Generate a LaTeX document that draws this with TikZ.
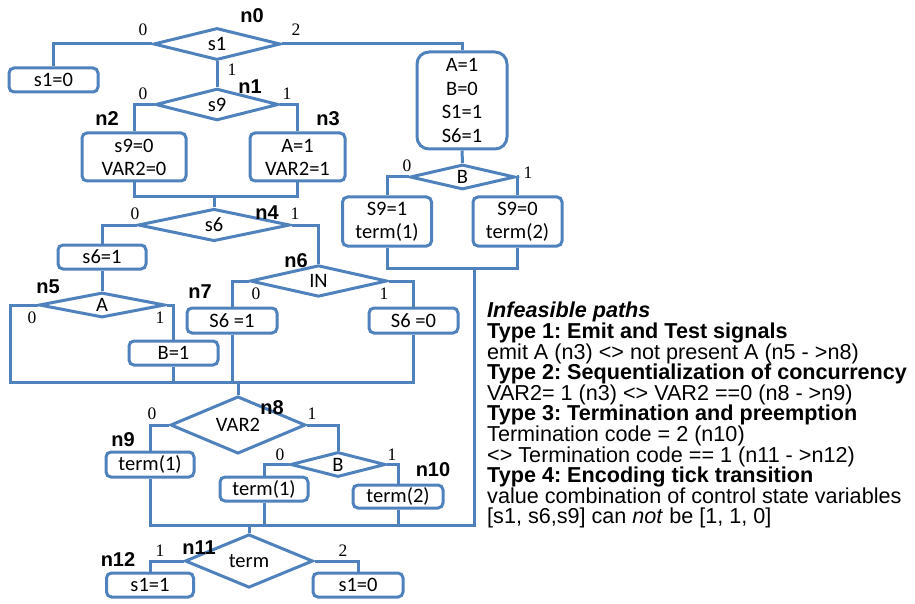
\documentclass[tikz,border=0pt]{standalone}
\usepackage{fontspec}
\setmainfont{Carlito}
\newfontfamily\arialfont{Liberation Sans}
\newfontfamily\serifnum{Liberation Serif}
\usepackage{tikz}
\usetikzlibrary{shapes.geometric}
\definecolor{lineblue}{RGB}{79,129,189}
\frenchspacing

\begin{document}
\begin{tikzpicture}[x=1pt, y=-1pt,
decisionnode/.style={diamond, draw=lineblue, line width=3pt, inner sep=0pt, font=\fontsize{20.5}{20.5}\selectfont},
squarednode/.style={rectangle, rounded corners=5pt, draw=lineblue, line width=3pt, inner sep=0pt, align=center, font=\fontsize{20.5}{23}\selectfont},
numlabel/.style={font=\serifnum\fontsize{17.5}{17.5}\selectfont, inner sep=0pt},
namelabel/.style={font=\arialfont\bfseries\fontsize{20}{20}\selectfont, inner sep=0pt},
infotext/.style={font=\arialfont\fontsize{21.6}{20.6}\selectfont, align=left, inner sep=0pt},
flow/.style={draw=lineblue, line width=3pt},
]
\useasboundingbox (0,0) rectangle (915,604);
%Nodes
\node[decisionnode, minimum width=127pt, minimum height=32pt] (n0)   at (217,44)    {s1};
\node[squarednode, minimum width=89pt, minimum height=24pt]   (s1z)  at (53.5,80)   {s1=0};
\node[squarednode, minimum width=90pt, minimum height=97pt, rounded corners=12pt, font=\fontsize{20.5}{23.7}\selectfont] (init) at (462,100.5) {A=1\\B=0\\S1=1\\S6=1};
\node[decisionnode, minimum width=105pt, minimum height=25pt] (bd)   at (462.5,177) {B};
\node[squarednode, minimum width=89pt, minimum height=49pt]   (s9o)  at (387,221.5) {S9=1\\term(1)};
\node[squarednode, minimum width=89pt, minimum height=49pt]   (s9z)  at (517.5,221.5) {S9=0\\term(2)};
\node[decisionnode, minimum width=123pt, minimum height=24pt] (n1)   at (217,104.5) {s9};
\node[squarednode, minimum width=104pt, minimum height=48pt]  (n2)   at (134,157)   {s9=0\\VAR2=0};
\node[squarednode, minimum width=95pt, minimum height=48pt]   (n3)   at (297.5,157) {A=1\\VAR2=1};
\node[decisionnode, minimum width=152pt, minimum height=24pt] (n4)   at (214,225)   {s6};
\node[squarednode, minimum width=88pt, minimum height=24pt]   (s6o)  at (102,257)   {s6=1};
\node[decisionnode, minimum width=126pt, minimum height=24pt] (n5)   at (102,305)   {A};
\node[squarednode, minimum width=89pt, minimum height=24pt]   (b1)   at (173.5,353) {B=1};
\node[decisionnode, minimum width=137pt, minimum height=24pt] (n6)   at (318.5,281) {IN};
\node[squarednode, minimum width=90pt, minimum height=25pt]   (n7)   at (232,320.5) {S6 =1};
\node[squarednode, minimum width=89pt, minimum height=25pt]   (s6z)  at (413.5,320.5) {S6 =0};
\node[decisionnode, minimum width=135pt, minimum height=24pt] (n8)   at (238,425)   {VAR2};
\node[squarednode, minimum width=88pt, minimum height=25pt]   (n9)   at (150,464.5) {term(1)};
\node[decisionnode, minimum width=95pt, minimum height=25pt]  (bb)   at (338,464.5) {B};
\node[squarednode, minimum width=88pt, minimum height=24pt]   (t1)   at (264,489)   {term(1)};
\node[squarednode, minimum width=90pt, minimum height=23pt]   (n10)  at (398,496.5) {term(2)};
\node[decisionnode, minimum width=128pt, minimum height=25pt] (n11)  at (249,561)   {term};
\node[squarednode, minimum width=87pt, minimum height=24pt]   (n12)  at (150,585)   {s1=1};
\node[squarednode, minimum width=90pt, minimum height=24pt]   (s1n)  at (358,585)   {s1=0};

%Junctions
\coordinate (j1) at (214,197);
\coordinate (j2) at (10,382);
\coordinate (j3) at (238,382);
\coordinate (j4) at (474,268);
\coordinate (j5) at (474,525);

%Names
\node[namelabel] (ln0)  at (252,16)  {n0};
\node[namelabel] (ln1)  at (250,87)  {n1};
\node[namelabel] (ln2)  at (107,119) {n2};
\node[namelabel] (ln3)  at (328,119) {n3};
\node[namelabel] (ln4)  at (267,213) {n4};
\node[namelabel] (ln5)  at (48,287)  {n5};
\node[namelabel] (ln6)  at (296,261) {n6};
\node[namelabel] (ln7)  at (200,292) {n7};
\node[namelabel] (ln8)  at (272,408) {n8};
\node[namelabel] (ln9)  at (123,440) {n9};
\node[namelabel] (ln10) at (433,470) {n10};
\node[namelabel] (ln11) at (199,548) {n11};
\node[namelabel] (ln12) at (118,560) {n12};

%Branch values
\node[numlabel] (v0a) at (143,30)  {0};
\node[numlabel] (v0b) at (296,30)  {2};
\node[numlabel] (v0c) at (232,70)  {1};
\node[numlabel] (v1a) at (143,94)  {0};
\node[numlabel] (v1b) at (287,94)  {1};
\node[numlabel] (vba) at (407,166) {0};
\node[numlabel] (vbb) at (528,173) {1};
\node[numlabel] (v4a) at (135,214) {0};
\node[numlabel] (v4b) at (295,214) {1};
\node[numlabel] (v5a) at (32,318)  {0};
\node[numlabel] (v5b) at (160,318) {1};
\node[numlabel] (v6a) at (256,294) {0};
\node[numlabel] (v6b) at (384,294) {1};
\node[numlabel] (v8a) at (152,414) {0};
\node[numlabel] (v8b) at (312,414) {1};
\node[numlabel] (v9a) at (280,455) {0};
\node[numlabel] (v9b) at (392,455) {1};
\node[numlabel] (vta) at (160,551) {1};
\node[numlabel] (vtb) at (343,551) {2};

%Text
\node[infotext, anchor=north west] (paths) at (487,302) {%
{\bfseries\itshape Infeasible paths}\\
{\bfseries Type 1: Emit and Test signals}\\
emit A (n3) <> not present A (n5 - >n8)\\
{\bfseries Type 2: Sequentialization of concurrency}\\
VAR2= 1 (n3) <> VAR2 ==0 (n8 - >n9)\\
{\bfseries Type 3: Termination and preemption}\\
Termination code = 2 (n10)\\
<> Termination code == 1 (n11 - >n12)\\
{\bfseries Type 4: Encoding tick transition}\\
value combination of control state variables\\
{[}s1, s6,s9] can \textit{not} be [1, 1, 0]};

%Lines
\draw[flow] (n0.west) -| (s1z.north);
\draw[flow] (n0.east) -| (init.north);
\draw[flow] (n0.south) -- (n1.north);
\draw[flow] (init.south) -- (bd.north);
\draw[flow] (bd.west) -| (s9o.north);
\draw[flow] (bd.east) -| (s9z.north);
\draw[flow] (s9o.south) |- (j4) -| (s9z.south);
\draw[flow] (j4) -- (j5) -| (n9.south);
\draw[flow] (n1.west) -| (n2.north);
\draw[flow] (n1.east) -| (n3.north);
\draw[flow] (n2.south) |- (j1) -| (n3.south);
\draw[flow] (j1) -- (n4.north);
\draw[flow] (n4.west) -| (s6o.north);
\draw[flow] (s6o.south) -- (n5.north);
\draw[flow] (n5.east) -| (b1.north);
\draw[flow] (n5.west) -| (j2) -| (s6z.south);
\draw[flow] (b1.south) -- (b1.south |- j2);
\draw[flow] (n4.east) -| (n6.north);
\draw[flow] (n6.west) -| (n7.north);
\draw[flow] (n6.east) -| (s6z.north);
\draw[flow] (n7.south) -- (n7.south |- j2);
\draw[flow] (j3) -- (n8.north);
\draw[flow] (n8.west) -| (n9.north);
\draw[flow] (n8.east) -| (bb.north);
\draw[flow] (bb.west) -| (t1.north);
\draw[flow] (bb.east) -| (n10.north);
\draw[flow] (t1.south) -- (t1.south |- j5);
\draw[flow] (n10.south) -- (n10.south |- j5);
\draw[flow] (n11.north) -- (n11.north |- j5);
\draw[flow] (n11.west) -| (n12.north);
\draw[flow] (n11.east) -| (s1n.north);

\end{tikzpicture}
\end{document}
